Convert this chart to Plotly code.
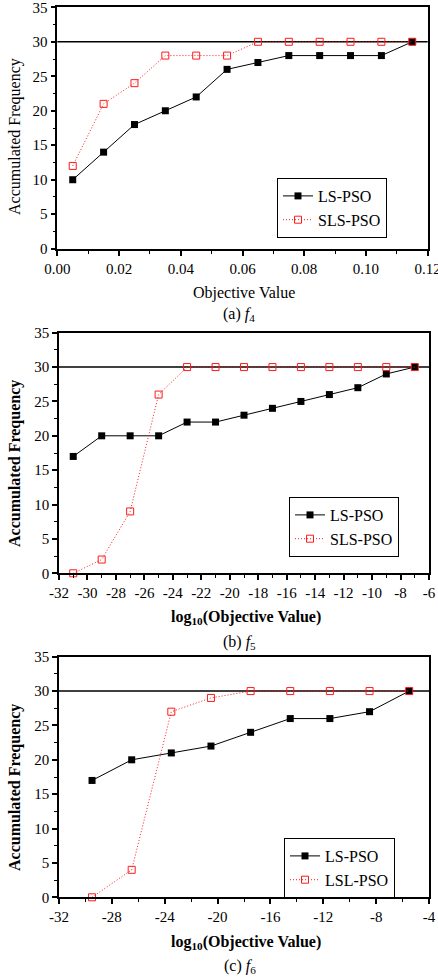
import plotly.graph_objects as go

# ---------------- data ----------------
a_x = [0.005, 0.015, 0.025, 0.035, 0.045, 0.055, 0.065, 0.075, 0.085, 0.095, 0.105, 0.115]
a_ls = [10, 14, 18, 20, 22, 26, 27, 28, 28, 28, 28, 30]
a_sls = [12, 21, 24, 28, 28, 28, 30, 30, 30, 30, 30, 30]

b_x = [-31, -29, -27, -25, -23, -21, -19, -17, -15, -13, -11, -9, -7]
b_ls = [17, 20, 20, 20, 22, 22, 23, 24, 25, 26, 27, 29, 30]
b_sls = [0, 2, 9, 26, 30, 30, 30, 30, 30, 30, 30, 30, 30]

c_x = [-29.5, -26.5, -23.5, -20.5, -17.5, -14.5, -11.5, -8.5, -5.5]
c_ls = [17, 20, 21, 22, 24, 26, 26, 27, 30]
c_lsl = [0, 4, 27, 29, 30, 30, 30, 30, 30]

a_ticks = [0.00, 0.02, 0.04, 0.06, 0.08, 0.10, 0.12]
a_ticktext = ["0.00", "0.02", "0.04", "0.06", "0.08", "0.10", "0.12"]
b_ticks = [-32, -30, -28, -26, -24, -22, -20, -18, -16, -14, -12, -10, -8, -6]
b_ticktext = ["-32", "-30", "-28", "-26", "-24", "-22", "-20", "-18", "-16", "-14", "-12", "-10", "-8", "-6"]
c_ticks = [-32, -28, -24, -20, -16, -12, -8, -4]
c_ticktext = ["-32", "-28", "-24", "-20", "-16", "-12", "-8", "-4"]
y_ticks = [0, 5, 10, 15, 20, 25, 30, 35]
ref_level = 30

W, H = 438, 977
FONT = "Times New Roman, Liberation Serif, serif"
RED = "#ff1a1a"


def py(p):
    return 1 - p / H


def px(p):
    return p / W


fig = go.Figure()

panels = [
    dict(x=a_x, s1=a_ls, s2=a_sls, n1="LS-PSO", n2="SLS-PSO", ax="", lg="legend"),
    dict(x=b_x, s1=b_ls, s2=b_sls, n1="LS-PSO", n2="SLS-PSO", ax="2", lg="legend2"),
    dict(x=c_x, s1=c_ls, s2=c_lsl, n1="LS-PSO", n2="LSL-PSO", ax="3", lg="legend3"),
]

for p in panels:
    fig.add_trace(go.Scatter(
        x=p["x"], y=p["s1"], name=p["n1"], mode="lines+markers",
        xaxis="x" + p["ax"], yaxis="y" + p["ax"], legend=p["lg"],
        line=dict(color="black", width=1),
        marker=dict(symbol="square", size=7, color="black"),
        cliponaxis=False,
    ))
    fig.add_trace(go.Scatter(
        x=p["x"], y=p["s2"], name=p["n2"], mode="lines+markers",
        xaxis="x" + p["ax"], yaxis="y" + p["ax"], legend=p["lg"],
        line=dict(color=RED, width=1, dash="1px,2px"),
        marker=dict(symbol="square-open", size=7, color=RED, line=dict(width=1)),
        cliponaxis=False,
    ))

# panel pixel geometry (x0, x1, ytop, ybottom)
geo = [
    (57.3, 427.7, 7.3, 248.7),
    (59.0, 429.0, 332.7, 573.3),
    (59.0, 429.0, 656.7, 897.3),
]
xranges = [[0, 0.12], [-32, -6], [-32, -4]]
xtv = [a_ticks, b_ticks, c_ticks]
xtt = [a_ticktext, b_ticktext, c_ticktext]
xminor = [0.01, 1, 2]

layout = dict(
    width=W, height=H, margin=dict(l=0, r=0, t=0, b=0, autoexpand=False),
    paper_bgcolor="white", plot_bgcolor="white",
    font=dict(family=FONT, size=15, color="black"),
    showlegend=True,
)

for i, (x0, x1, yt, yb) in enumerate(geo):
    sfx = "" if i == 0 else str(i + 1)
    layout["xaxis" + sfx] = dict(
        domain=[px(x0), px(x1)], range=xranges[i], anchor="y" + sfx,
        automargin=False, ticklabeloverflow="allow",
        tickvals=xtv[i], ticktext=xtt[i],
        ticks="outside", ticklen=5, tickwidth=1.5, tickcolor="black",
        minor=dict(ticks="outside", ticklen=3, tickwidth=1.2, dtick=xminor[i],
                   tick0=xranges[i][0], tickcolor="black"),
        showline=True, linecolor="black", linewidth=1.6, mirror=True,
        showgrid=False, zeroline=False,
        tickfont=dict(family=FONT, size=15, color="black"),
    )
    layout["yaxis" + sfx] = dict(
        domain=[py(yb), py(yt)], range=[0, 35], anchor="x" + sfx,
        automargin=False, ticklabeloverflow="allow",
        tickvals=y_ticks,
        ticks="outside", ticklen=5, tickwidth=1.5, tickcolor="black",
        minor=dict(ticks="outside", ticklen=3, tickwidth=1.2, dtick=2.5, tick0=0,
                   tickcolor="black"),
        showline=True, linecolor="black", linewidth=1.6, mirror=True,
        showgrid=False, zeroline=False,
        tickfont=dict(family=FONT, size=15, color="black"),
    )

legend_pos = [(277, 178), (289, 497), (284, 838)]
for i, (lx, ly) in enumerate(legend_pos):
    key = "legend" if i == 0 else "legend" + str(i + 1)
    layout[key] = dict(
        x=px(lx), y=py(ly), xanchor="left", yanchor="top",
        bordercolor="black", borderwidth=1, bgcolor="white",
        font=dict(family=FONT, size=16, color="black"),
        tracegroupgap=0,
    )

fig.update_layout(**layout)

# reference line at 30
for i in range(3):
    sfx = "" if i == 0 else str(i + 1)
    fig.add_shape(type="line", xref="x" + sfx + " domain", yref="y" + sfx,
                  x0=0, x1=1, y0=ref_level, y1=ref_level,
                  line=dict(color="black", width=1.6), layer="below")

# axis titles and captions
xtitles = ["Objective Value", "<b>log<sub>10</sub>(Objective Value)</b>",
           "<b>log<sub>10</sub>(Objective Value)</b>"]
xtitle_y = [293, 617, 942]
xtitle_x = [244, 246, 246]
captions = ["(a) <i>f</i><sub>4</sub>", "(b) <i>f</i><sub>5</sub>", "(c) <i>f</i><sub>6</sub>"]
cap_y = [314, 642, 966]
cap_x = [239, 239, 240]
ytitle_y = [137, 464, 788]
ytitles = ["Accumulated Frequency", "<b>Accumulated Frequency</b>", "<b>Accumulated Frequency</b>"]

for i in range(3):
    fig.add_annotation(text=xtitles[i], xref="paper", yref="paper",
                       x=px(xtitle_x[i]), y=py(xtitle_y[i]), showarrow=False,
                       xanchor="center", yanchor="middle",
                       font=dict(family=FONT, size=16, color="black"))
    fig.add_annotation(text=captions[i], xref="paper", yref="paper",
                       x=px(cap_x[i]), y=py(cap_y[i]), showarrow=False,
                       xanchor="center", yanchor="middle",
                       font=dict(family=FONT, size=16, color="black"))
    fig.add_annotation(text=ytitles[i], xref="paper", yref="paper",
                       x=px(15), y=py(ytitle_y[i]), showarrow=False, textangle=-90,
                       xanchor="center", yanchor="middle",
                       font=dict(family=FONT, size=16, color="black"))

fig.write_html(
    "out.html",
    config={"displayModeBar": False},
    post_script="document.body.style.margin='0';document.body.style.overflow='hidden';",
)
